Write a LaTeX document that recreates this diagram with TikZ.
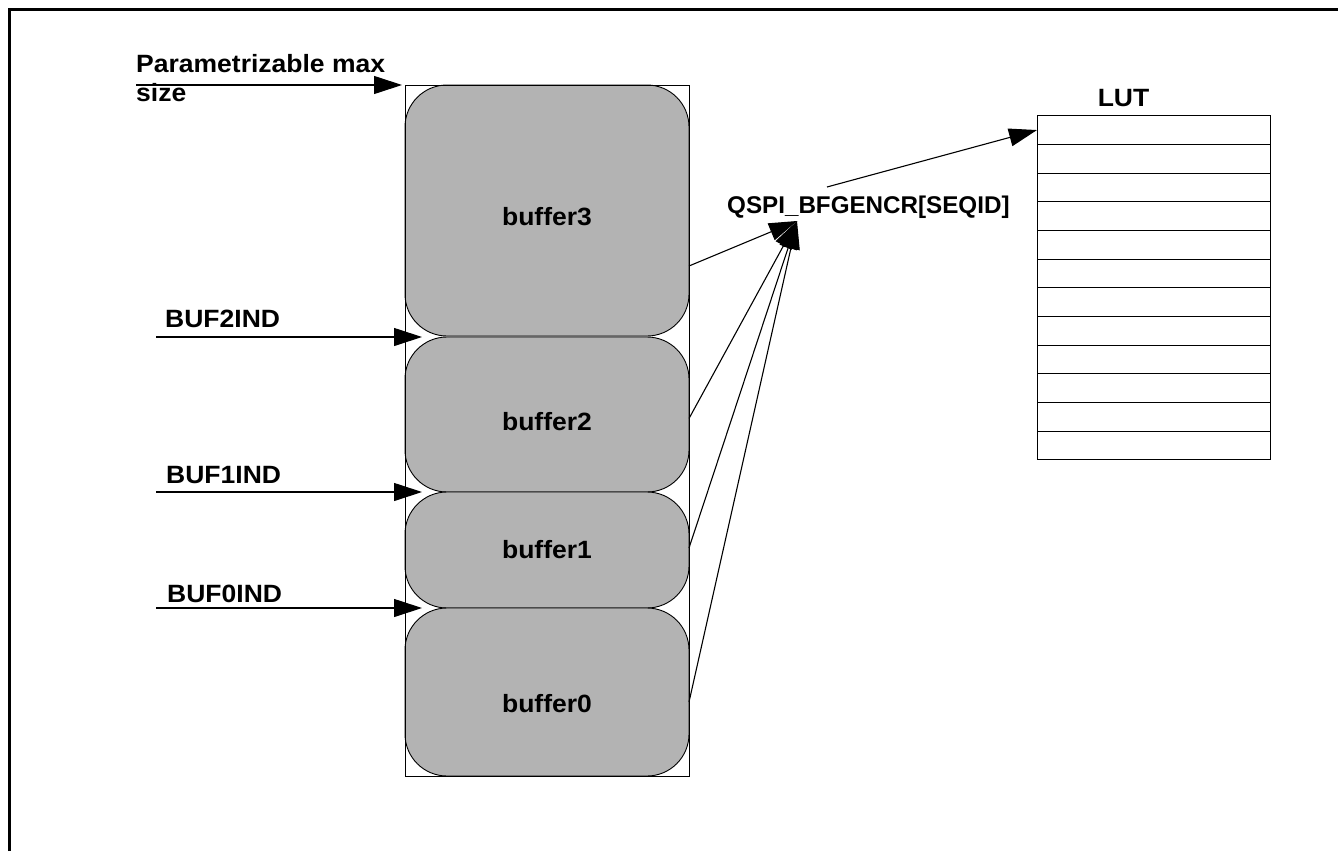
\documentclass[tikz,border=0pt]{standalone}
\usepackage{fontspec}
\setmainfont{Liberation Sans}
\newfontfamily\widesans[FakeStretch=1.06]{Liberation Sans}
\usetikzlibrary{arrows.meta,calc}
\definecolor{bufgray}{RGB}{179,179,179}
\begin{document}
\begin{tikzpicture}[x=1pt,y=-1pt,
  lbl/.style={font=\widesans\fontsize{25}{28.5}\selectfont\bfseries, inner sep=0pt, anchor=base west},
  qlbl/.style={font=\fontsize{24.2}{28}\selectfont\bfseries, inner sep=0pt, anchor=base west},
  buf/.style={draw=black, line width=0.9pt, fill=bufgray, rounded corners=42pt, minimum width=284pt, inner sep=0pt, outer sep=0pt},
  buftext/.style={font=\widesans\fontsize{25}{28}\selectfont\bfseries, inner sep=0pt},
  arr/.style={line width=1.1pt, -{Triangle[length=28pt,width=18pt]}},
  lutrow/.style={draw, line width=1pt, minimum width=233pt, minimum height=28.67pt, inner sep=0pt, outer sep=0pt},
  membox/.style={draw, line width=0.8pt, minimum width=284pt, minimum height=691pt, inner sep=0pt, outer sep=0pt}]
\useasboundingbox (0,0) rectangle (1338,851);
% frame
\draw[line width=2.6pt] (9.3,851) -- (9.3,9.8) -- (1338,9.8);
% buffers
\node[buf, minimum height=251pt] (b3) at (547,210.5) {};
\node[buf, minimum height=155pt] (b2) at (547,414.5) {};
\node[buf, minimum height=116pt] (b1) at (547,550) {};
\node[buf, minimum height=168pt] (b0) at (547,692) {};
\node[membox] (mem) at (547,430.5) {};
\node[buftext] (t3) at ([yshift=-6pt]b3.center) {buffer3};
\node[buftext] (t2) at ([yshift=-7pt]b2.center) {buffer2};
\node[buftext] (t1) at ([yshift=0pt]b1.center) {buffer1};
\node[buftext] (t0) at ([yshift=-12pt]b0.center) {buffer0};
% labels
\node[lbl, anchor=north west, align=left] (pm) at (136,54.5) {Parametrizable max\\size};
\node[lbl] (l2) at (165,327) {BUF2IND};
\node[lbl] (l1) at (166,483) {BUF1IND};
\node[lbl] (l0) at (167,602) {BUF0IND};
\node[qlbl] (q) at (727,213) {QSPI\_BFGENCR[SEQID]};
\node[lbl, anchor=base] (lt) at (1123.5,106.7) {LUT};
% LUT
\foreach \i in {0,...,11} \node[lutrow] (r\i) at (1153.5,{130.03+28.67*\i}) {};
% coordinates
\coordinate (pa) at (136,85);
\coordinate (a2) at (156,337);
\coordinate (a1) at (156,492);
\coordinate (a0) at (156,608);
\coordinate (qin) at (797,221);
\coordinate (qout) at (827,187);
% arrows
\draw[arr] (pa) -- ([xshift=-3pt]mem.north west);
\draw[arr] (a2) -- ([xshift=17pt]b2.north west);
\draw[arr] (a1) -- ([xshift=17pt]b1.north west);
\draw[arr] (a0) -- ([xshift=17pt]b0.north west);
\draw[arr] ([yshift=-55.5pt]b3.east) -- (qin);
\draw[arr] ([yshift=-4pt]b2.east) -- (qin);
\draw[arr] ([yshift=2pt]b1.east) -- (qin);
\draw[arr] ([yshift=-10pt]b0.east) -- (qin);
\draw[arr] (qout) -- (r0.west);
\end{tikzpicture}
\end{document}
